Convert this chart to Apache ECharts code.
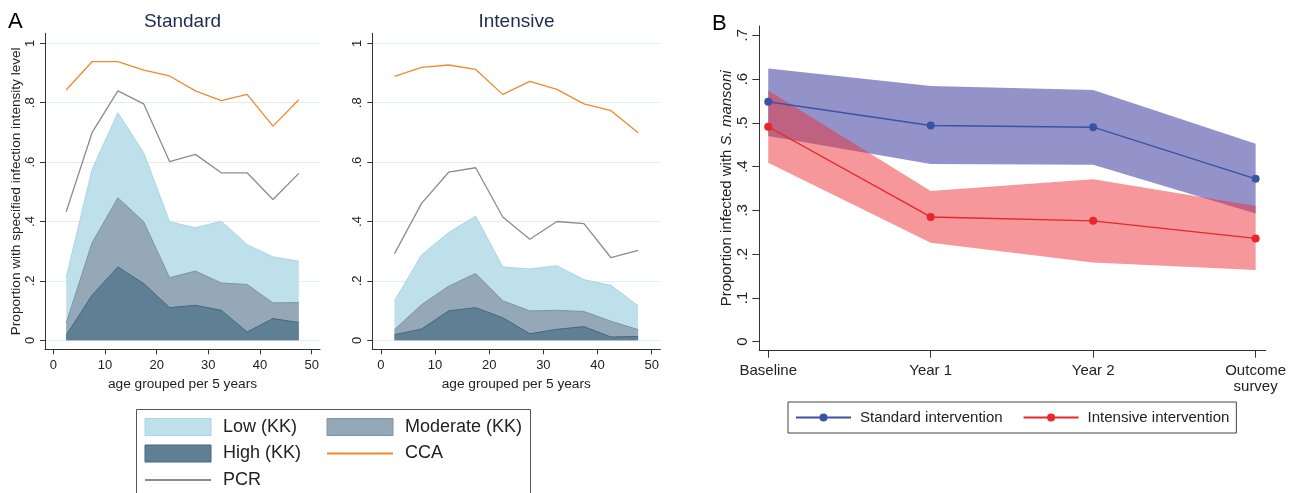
<!DOCTYPE html>
<html>
<head>
<meta charset="utf-8">
<script src="https://cdn.jsdelivr.net/npm/echarts@6/dist/echarts.min.js"></script>
<style>
  html, body { margin: 0; padding: 0; background: #fff; }
  #chart { width: 1299px; height: 493px; }
</style>
</head>
<body>
<div id="chart"></div>
<script>
// panel A: age groups (midpoints of 5-year bands)
const ageGroups = [2.5, 7.5, 12.5, 17.5, 22.5, 27.5, 32.5, 37.5, 42.5, 47.5];

// Standard arm (top of each stacked band)
const stdLow      = [0.211, 0.575, 0.766, 0.631, 0.399, 0.379, 0.401, 0.322, 0.281, 0.266];
const stdModerate = [0.058, 0.328, 0.480, 0.399, 0.211, 0.233, 0.193, 0.188, 0.126, 0.127];
const stdHigh     = [0.017, 0.152, 0.247, 0.191, 0.110, 0.118, 0.101, 0.028, 0.073, 0.060];
const stdCCA      = [0.843, 0.938, 0.938, 0.910, 0.890, 0.840, 0.807, 0.828, 0.721, 0.810];
const stdPCR      = [0.433, 0.699, 0.840, 0.796, 0.602, 0.626, 0.564, 0.564, 0.474, 0.562];

// Intensive arm
const intLow      = [0.133, 0.287, 0.363, 0.418, 0.247, 0.240, 0.251, 0.204, 0.185, 0.116];
const intModerate = [0.036, 0.120, 0.182, 0.225, 0.133, 0.099, 0.101, 0.097, 0.064, 0.036];
const intHigh     = [0.019, 0.038, 0.099, 0.110, 0.076, 0.022, 0.037, 0.046, 0.011, 0.013];
const intCCA      = [0.889, 0.919, 0.927, 0.912, 0.828, 0.872, 0.845, 0.796, 0.773, 0.699];
const intPCR      = [0.292, 0.461, 0.566, 0.581, 0.415, 0.340, 0.400, 0.393, 0.278, 0.303];

const ageTicks = [0, 10, 20, 30, 40, 50];
const propTicksA = [0, 0.2, 0.4, 0.6, 0.8, 1];

// panel B: survey rounds
const surveyRounds = ['Baseline', 'Year 1', 'Year 2', 'Outcome\nsurvey'];
const standardMean  = [0.548, 0.494, 0.490, 0.372];
const standardUpper = [0.624, 0.584, 0.575, 0.452];
const standardLower = [0.470, 0.406, 0.404, 0.293];
const intensiveMean  = [0.491, 0.285, 0.276, 0.236];
const intensiveUpper = [0.574, 0.344, 0.371, 0.310];
const intensiveLower = [0.409, 0.226, 0.181, 0.164];
const propTicksB = [0, 0.1, 0.2, 0.3, 0.4, 0.5, 0.6, 0.7];

const FONT = 'Liberation Sans, Arial, sans-serif';
const INK = '#222';
const lowCol = '#bde0eb', modCol = '#94a8b7', highCol = '#5f8094';
const ccaCol = '#f08a2b', pcrCol = '#8c8c8c';
const stdCol = '#3b53a4', intCol = '#e8262b';

function decimalLabel(v) {
  if (v === 0) return '0';
  if (v === 1) return '1';
  return String(+v.toFixed(2)).replace(/^0/, '');
}
function pairs(xs, ys) { return xs.map((x, i) => [x, ys[i]]); }

const chart = echarts.init(document.getElementById('chart'));

function ageAxis(gridIndex) {
  return {
    type: 'value', gridIndex, min: -1.6, max: 51.6,
    name: 'age grouped per 5 years', nameLocation: 'middle', nameGap: 24,
    nameTextStyle: { fontFamily: FONT, fontSize: 13.7, color: INK },
    axisLine: { show: true, onZero: false, lineStyle: { color: '#333', width: 1 } },
    axisTick: { show: true, length: 5, customValues: ageTicks, lineStyle: { color: '#333' } },
    axisLabel: { customValues: ageTicks, margin: 10, fontFamily: FONT, fontSize: 13, color: INK },
    splitLine: { show: false }
  };
}
function propAxisA(gridIndex, withName) {
  return {
    type: 'value', gridIndex, min: -0.0303, max: 1.0337,
    name: withName ? 'Proportion with specified infection intensity level' : '',
    nameLocation: 'middle', nameGap: 21,
    nameTextStyle: { fontFamily: FONT, fontSize: 13.6, color: INK },
    axisLine: { show: true, onZero: false, lineStyle: { color: '#333', width: 1 } },
    axisTick: { show: true, length: 5, customValues: propTicksA, lineStyle: { color: '#333' } },
    axisLabel: { customValues: propTicksA, rotate: 90, margin: 8, fontFamily: FONT, fontSize: 13,
                 color: INK, formatter: decimalLabel },
    splitLine: { show: true, lineStyle: { color: '#e3ecf0', width: 1 } }
  };
}

function panelSeries(idx, low, moderate, high, cca, pcr) {
  const base = { type: 'line', xAxisIndex: idx, yAxisIndex: idx, symbol: 'none', silent: true };
  return [
    Object.assign({}, base, { name: 'Low (KK)', data: pairs(ageGroups, low),
      itemStyle: { color: lowCol }, lineStyle: { color: '#a9d5e5', width: 1 },
      areaStyle: { color: lowCol, opacity: 1 } }),
    Object.assign({}, base, { name: 'Moderate (KK)', data: pairs(ageGroups, moderate),
      itemStyle: { color: modCol }, lineStyle: { color: '#7f94a6', width: 1 },
      areaStyle: { color: modCol, opacity: 1 } }),
    Object.assign({}, base, { name: 'High (KK)', data: pairs(ageGroups, high),
      itemStyle: { color: highCol }, lineStyle: { color: '#46677d', width: 1 },
      areaStyle: { color: highCol, opacity: 1 } }),
    Object.assign({}, base, { name: 'PCR', data: pairs(ageGroups, pcr),
      itemStyle: { color: pcrCol }, lineStyle: { color: pcrCol, width: 1.3 } }),
    Object.assign({}, base, { name: 'CCA', data: pairs(ageGroups, cca),
      itemStyle: { color: ccaCol }, lineStyle: { color: ccaCol, width: 1.3 } })
  ];
}

// confidence band as one polygon, mapped through the panel B axes
function band(name, lower, upper, color) {
  const rows = surveyRounds.map((_, i) => [i, lower[i], upper[i]]);
  return {
    name, type: 'custom', xAxisIndex: 2, yAxisIndex: 2, silent: true,
    data: rows,
    encode: { x: 0, y: [1, 2] },
    renderItem(params, api) {
      if (params.dataIndex !== 0) return null;
      const top = rows.map(r => api.coord([r[0], r[2]]));
      const bottom = rows.map(r => api.coord([r[0], r[1]])).reverse();
      return { type: 'polygon', shape: { points: top.concat(bottom) }, style: { fill: color } };
    }
  };
}
function meanLine(name, values, color) {
  return { name, type: 'line', xAxisIndex: 2, yAxisIndex: 2, symbol: 'circle', symbolSize: 8,
    data: pairs(surveyRounds.map((_, i) => i), values),
    itemStyle: { color }, lineStyle: { color, width: 1.4 }, z: 5 };
}

const option = {
  animation: false,
  backgroundColor: '#fff',
  title: [
    { text: 'A', left: 8, top: 11, padding: 0, textStyle: { fontFamily: FONT, fontSize: 22, fontWeight: 'normal', color: '#000' } },
    { text: 'Standard', left: 182.5, textAlign: 'center', top: 12, padding: 0,
      textStyle: { fontFamily: FONT, fontSize: 19, fontWeight: 'normal', color: '#1c2b4f' } },
    { text: 'Intensive', left: 516.5, textAlign: 'center', top: 12, padding: 0,
      textStyle: { fontFamily: FONT, fontSize: 19, fontWeight: 'normal', color: '#1c2b4f' } },
    { text: 'B', left: 712, top: 13, padding: 0, textStyle: { fontFamily: FONT, fontSize: 22, fontWeight: 'normal', color: '#000' } }
  ],
  grid: [
    { left: 45, top: 33.3, width: 275, height: 316 },
    { left: 372.3, top: 33.3, width: 288, height: 316 },
    { left: 759.3, top: 26, width: 506.4, height: 324.7 }
  ],
  xAxis: [
    ageAxis(0),
    ageAxis(1),
    {
      type: 'value', gridIndex: 2, min: -0.055, max: 3.062,
      axisLine: { show: true, onZero: false, lineStyle: { color: '#333', width: 1 } },
      axisTick: { show: true, length: 7, customValues: [0, 1, 2, 3], lineStyle: { color: '#333' } },
      axisLabel: { customValues: [0, 1, 2, 3], margin: 12, fontFamily: FONT, fontSize: 15, color: INK,
                   lineHeight: 16, formatter: v => surveyRounds[Math.round(v)] },
      splitLine: { show: false }
    }
  ],
  yAxis: [
    propAxisA(0, true),
    propAxisA(1, false),
    {
      type: 'value', gridIndex: 2, min: -0.0206, max: 0.7212,
      name: 'Proportion infected with {i|S. mansoni}', nameLocation: 'middle', nameGap: 25,
      nameTextStyle: { fontFamily: FONT, fontSize: 15, color: INK,
                       rich: { i: { fontFamily: FONT, fontSize: 15, fontStyle: 'italic', color: INK } } },
      axisLine: { show: true, onZero: false, lineStyle: { color: '#333', width: 1 } },
      axisTick: { show: true, length: 7, customValues: propTicksB, lineStyle: { color: '#333' } },
      axisLabel: { customValues: propTicksB, rotate: 90, margin: 9, fontFamily: FONT, fontSize: 15,
                   color: INK, formatter: decimalLabel },
      splitLine: { show: false }
    }
  ],
  legend: [
    { orient: 'vertical', left: 144, top: 418, padding: 0, itemWidth: 66, itemHeight: 17, itemGap: 8.5,
      selectedMode: false,
      textStyle: { fontFamily: FONT, fontSize: 18, color: INK, padding: [0, 0, 0, 7] },
      data: [
        { name: 'Low (KK)', icon: 'rect', itemStyle: { color: lowCol, borderColor: '#a9d5e5', borderWidth: 1 } },
        { name: 'High (KK)', icon: 'rect', itemStyle: { color: highCol, borderColor: '#46677d', borderWidth: 1 } },
        { name: 'PCR', itemStyle: { opacity: 0 } }
      ] },
    { orient: 'vertical', left: 326, top: 418, padding: 0, itemWidth: 66, itemHeight: 17, itemGap: 8.5,
      selectedMode: false,
      textStyle: { fontFamily: FONT, fontSize: 18, color: INK, padding: [0, 0, 0, 7] },
      data: [
        { name: 'Moderate (KK)', icon: 'rect', itemStyle: { color: modCol, borderColor: '#7f94a6', borderWidth: 1 } },
        { name: 'CCA', itemStyle: { opacity: 0 } }
      ] },
    { orient: 'horizontal', left: 788, top: 402, padding: [8, 7, 8, 7], itemWidth: 55, itemHeight: 10, itemGap: 20,
      selectedMode: false, borderColor: '#444', borderWidth: 1,
      textStyle: { fontFamily: FONT, fontSize: 15, color: INK, padding: [0, 0, 0, 4] },
      data: ['Standard intervention', 'Intensive intervention'] }
  ],
  graphic: [
    { type: 'rect', shape: { x: 136.5, y: 409.5, width: 394, height: 100 }, silent: true,
      style: { fill: 'none', stroke: '#555', lineWidth: 1 } }
  ],
  series: [].concat(
    panelSeries(0, stdLow, stdModerate, stdHigh, stdCCA, stdPCR),
    panelSeries(1, intLow, intModerate, intHigh, intCCA, intPCR),
    [band('Standard 95% CI', standardLower, standardUpper, 'rgba(40,40,150,0.5)'),
     band('Intensive 95% CI', intensiveLower, intensiveUpper, 'rgba(235,48,55,0.5)'),
     meanLine('Standard intervention', standardMean, stdCol),
     meanLine('Intensive intervention', intensiveMean, intCol)]
  )
};

chart.setOption(option);
</script>
</body>
</html>
